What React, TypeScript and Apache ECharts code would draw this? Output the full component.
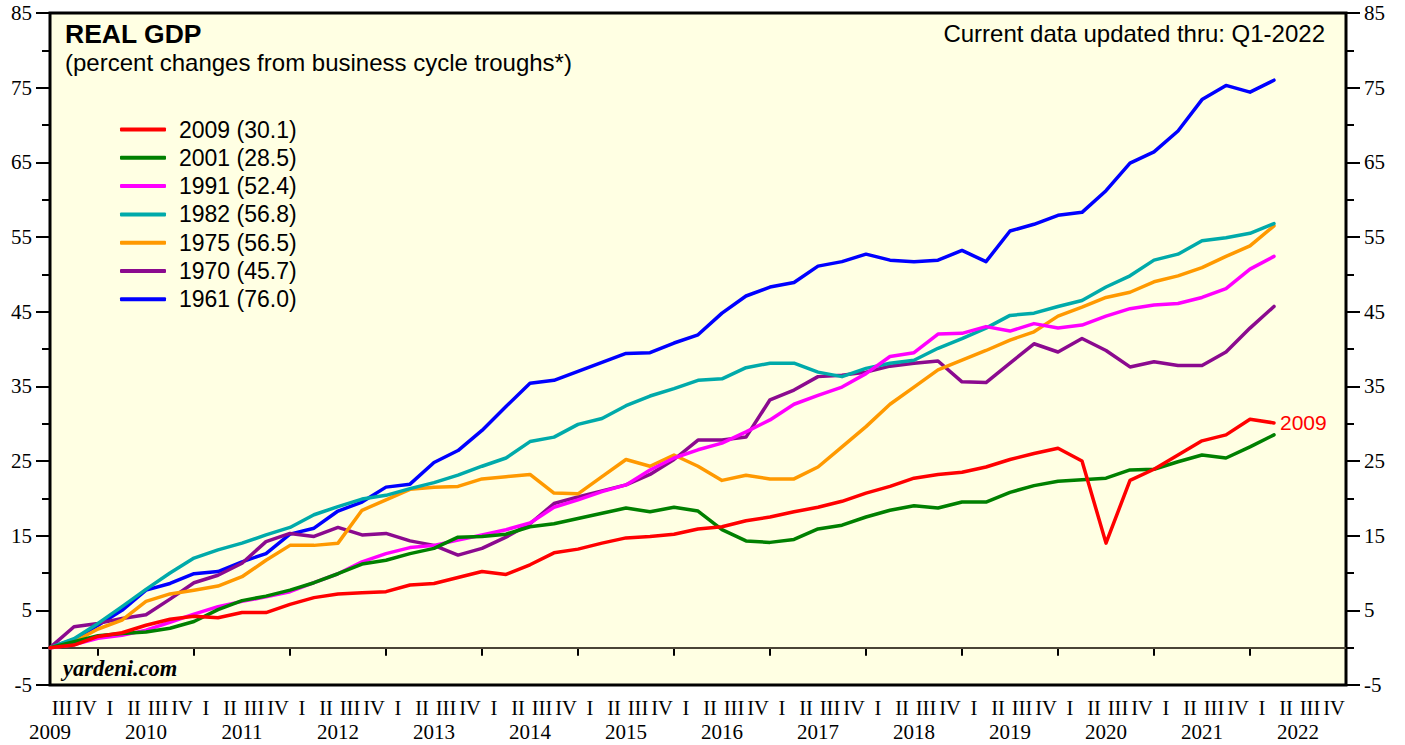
import React, { useEffect, useRef } from 'react';
import * as echarts from 'echarts';

// Year labels and quarter labels (plot runs from Q3-2009 through Q4-2022)
const years = [2009, 2010, 2011, 2012, 2013, 2014, 2015, 2016, 2017, 2018, 2019, 2020, 2021, 2022];
const quarterNames = ['I', 'II', 'III', 'IV'];
const quarterCategories = ['III', 'IV'].concat(...years.slice(1).map(() => quarterNames));

// Percent change in real GDP from business-cycle trough, quarter by quarter (index 0 = trough)
const gdp2009 = [0, 0.35, 1.5, 2.0, 3.0, 3.8, 4.2, 4.0, 4.7, 4.7, 5.8, 6.7, 7.2, 7.35, 7.5, 8.4, 8.6, 9.4, 10.2, 9.8, 11.1, 12.7, 13.2, 14.0, 14.7, 14.9, 15.2, 15.9, 16.2, 17.0, 17.5, 18.2, 18.8, 19.6, 20.7, 21.6, 22.7, 23.2, 23.5, 24.2, 25.2, 26.0, 26.7, 25.0, 14.0, 22.4, 23.9, 25.8, 27.7, 28.5, 30.6, 30.1];
const gdp2001 = [0, 0.8, 1.6, 1.9, 2.1, 2.6, 3.5, 5.1, 6.3, 6.9, 7.7, 8.7, 9.9, 11.2, 11.7, 12.6, 13.3, 14.8, 14.9, 15.2, 16.2, 16.6, 17.3, 18.0, 18.7, 18.2, 18.8, 18.3, 15.8, 14.3, 14.1, 14.5, 15.9, 16.4, 17.5, 18.4, 19.0, 18.7, 19.5, 19.5, 20.8, 21.7, 22.3, 22.5, 22.7, 23.8, 23.9, 24.9, 25.8, 25.4, 26.9, 28.5];
const gdp1991 = [0, 0.4, 1.25, 1.65, 2.35, 3.4, 4.5, 5.5, 6.2, 6.8, 7.5, 8.7, 9.9, 11.5, 12.6, 13.4, 13.7, 14.4, 15.1, 15.8, 16.7, 18.8, 19.8, 20.9, 21.8, 23.8, 25.4, 26.5, 27.4, 28.9, 30.5, 32.6, 33.8, 34.9, 36.7, 39.0, 39.5, 42.0, 42.1, 43.0, 42.4, 43.4, 42.8, 43.2, 44.4, 45.4, 45.9, 46.1, 46.9, 48.1, 50.7, 52.4];
const gdp1982 = [0, 1.2, 3.25, 5.5, 7.8, 10.0, 12.0, 13.1, 14.0, 15.1, 16.1, 17.8, 18.9, 19.9, 20.4, 21.3, 22.1, 23.1, 24.3, 25.4, 27.6, 28.2, 29.9, 30.7, 32.4, 33.7, 34.7, 35.8, 36.0, 37.5, 38.1, 38.1, 36.9, 36.3, 37.4, 38.1, 38.5, 40.1, 41.4, 42.8, 44.5, 44.8, 45.7, 46.5, 48.3, 49.8, 51.9, 52.7, 54.5, 54.9, 55.5, 56.8];
const gdp1975 = [0, 0.8, 2.5, 3.7, 6.2, 7.2, 7.7, 8.25, 9.5, 11.7, 13.7, 13.7, 14.0, 18.4, 19.8, 21.2, 21.5, 21.6, 22.6, 22.9, 23.2, 20.7, 20.6, 22.9, 25.2, 24.3, 25.8, 24.3, 22.4, 23.1, 22.6, 22.6, 24.2, 26.9, 29.6, 32.6, 34.9, 37.2, 38.5, 39.8, 41.2, 42.3, 44.4, 45.6, 46.9, 47.6, 49.0, 49.8, 50.9, 52.4, 53.8, 56.5];
const gdp1970 = [0, 2.8, 3.25, 3.9, 4.4, 6.5, 8.7, 9.7, 11.3, 14.2, 15.3, 14.9, 16.1, 15.1, 15.3, 14.3, 13.7, 12.4, 13.3, 14.8, 16.6, 19.3, 20.2, 21.0, 21.8, 23.2, 25.2, 27.8, 27.8, 28.2, 33.2, 34.5, 36.3, 36.5, 36.9, 37.7, 38.1, 38.4, 35.6, 35.5, 38.1, 40.7, 39.6, 41.4, 39.8, 37.6, 38.3, 37.8, 37.8, 39.6, 42.8, 45.7];
const gdp1961 = [0, 1.1, 3.0, 5.0, 7.7, 8.6, 9.9, 10.2, 11.5, 12.6, 15.2, 16.0, 18.3, 19.5, 21.5, 21.9, 24.8, 26.4, 29.1, 32.3, 35.4, 35.8, 37.0, 38.2, 39.4, 39.5, 40.8, 41.9, 44.8, 47.1, 48.3, 48.9, 51.1, 51.7, 52.7, 51.9, 51.7, 51.9, 53.2, 51.7, 55.8, 56.7, 57.9, 58.3, 61.2, 64.9, 66.4, 69.2, 73.4, 75.3, 74.4, 76.0];

const cycleYears = ['2009', '2001', '1991', '1982', '1975', '1970', '1961'];
const cycleData = [gdp2009, gdp2001, gdp1991, gdp1982, gdp1975, gdp1970, gdp1961];
const cycleColors = ['#FF0000', '#008000', '#FF00FF', '#00AAAA', '#FF9900', '#8B0A8F', '#0000FF'];

const titleText = 'REAL GDP';
const subtitleText = '(percent changes from business cycle troughs*)';
const updatedText = 'Current data updated thru: Q1-2022';
const sourceText = 'yardeni.com';

const SANS = '"Liberation Sans", Arial, sans-serif';
const SERIF = '"Liberation Serif", "Times New Roman", serif';

export default function App() {
  const ref = useRef<HTMLDivElement>(null);

  useEffect(() => {
    if (!ref.current) return;
    const chart = echarts.init(ref.current, undefined, { renderer: 'svg' });

    const legendNames = cycleYears.map(
      (y, k) => `${y} (${cycleData[k][cycleData[k].length - 1].toFixed(1)})`
    );

    const series: any[] = cycleYears
      .map((y, k) => ({
        name: legendNames[k],
        type: 'line',
        xAxisIndex: 1,
        yAxisIndex: 0,
        data: cycleData[k].map((v, i) => [i, v]),
        showSymbol: false,
        symbol: 'none',
        color: cycleColors[k],
        lineStyle: { width: 3.5, color: cycleColors[k], cap: 'round', join: 'round' },
        z: 10 + (cycleYears.length - k),
        endLabel:
          k === 0
            ? {
                show: true,
                formatter: () => y,
                color: cycleColors[k],
                fontFamily: SANS,
                fontSize: 21,
                distance: 6,
              }
            : { show: false },
        markLine:
          k === cycleYears.length - 1
            ? {
                silent: true,
                symbol: 'none',
                label: { show: false },
                lineStyle: { color: '#4a4436', width: 2, type: 'solid' },
                data: [{ yAxis: 0 }],
                z: 1,
              }
            : undefined,
      }))
      .reverse();

    const yAxisBase = {
      type: 'value',
      min: -5,
      max: 85,
      interval: 10,
      axisLine: { show: false },
      axisTick: { show: true, length: 14, lineStyle: { color: '#000', width: 2 } },
      minorTick: { show: true, splitNumber: 2, length: 8, lineStyle: { color: '#000', width: 2 } },
      splitLine: { show: false },
      minorSplitLine: { show: false },
      axisLabel: { color: '#000', fontFamily: SERIF, fontSize: 21, margin: 18 },
    };

    chart.setOption({
      animation: false,
      backgroundColor: '#FFFFFF',
      grid: {
        left: 50,
        right: 59,
        top: 13,
        bottom: 60,
        show: true,
        backgroundColor: '#FFFFE3',
        borderColor: '#000',
        borderWidth: 3,
        containLabel: false,
      },
      legend: {
        show: true,
        orient: 'vertical',
        left: 120,
        top: 118,
        padding: 0,
        itemWidth: 46,
        itemHeight: 4,
        itemGap: 5.3,
        icon: 'roundRect',
        data: legendNames,
        textStyle: { color: '#000', fontFamily: SANS, fontSize: 23, lineHeight: 22, padding: [0, 0, 0, 8] },
        selectedMode: false,
      },
      xAxis: [
        {
          type: 'category',
          position: 'bottom',
          data: quarterCategories,
          boundaryGap: true,
          axisLine: { show: false },
          axisTick: {
            show: true,
            length: 8,
            lineStyle: { color: '#000', width: 2 },
            interval: (i: number, v: string) => v === 'I',
          },
          axisLabel: {
            interval: 0,
            hideOverlap: false,
            color: '#000',
            fontFamily: SERIF,
            fontSize: 20.5,
            margin: 12,
          },
          splitLine: { show: false },
        },
        {
          type: 'value',
          position: 'bottom',
          min: 0,
          max: quarterCategories.length,
          interval: 4,
          axisLine: { show: false },
          axisTick: { show: false },
          splitLine: { show: false },
          axisLabel: {
            color: '#000',
            fontFamily: SERIF,
            fontSize: 21,
            margin: 36,
            showMinLabel: true,
            showMaxLabel: true,
            formatter: (v: number) => {
              const k = v / 4;
              return Number.isInteger(k) && k < years.length ? String(years[k]) : '';
            },
          },
        },
      ],
      yAxis: [
        { ...yAxisBase, position: 'left' },
        { ...yAxisBase, position: 'right' },
      ],
      graphic: [
        {
          type: 'text',
          x: 65,
          y: 34,
          style: { text: titleText, font: `bold 26.5px ${SANS}`, fill: '#000', textVerticalAlign: 'middle' },
          z: 100,
        },
        {
          type: 'text',
          x: 65,
          y: 62,
          style: { text: subtitleText, font: `24px ${SANS}`, fill: '#000', textVerticalAlign: 'middle' },
          z: 100,
        },
        {
          type: 'text',
          x: 1325,
          y: 33,
          style: {
            text: updatedText,
            font: `24px ${SANS}`,
            fill: '#000',
            textAlign: 'right',
            textVerticalAlign: 'middle',
          },
          z: 100,
        },
        {
          type: 'text',
          x: 63,
          y: 668,
          style: {
            text: sourceText,
            font: `italic bold 22.5px ${SERIF}`,
            fill: '#000',
            textVerticalAlign: 'middle',
          },
          z: 100,
        },
      ],
      series,
    });

    return () => chart.dispose();
  }, []);

  return (
    <div
      ref={ref}
      style={{ position: 'absolute', left: 0, top: 0, width: 1405, height: 745 }}
    />
  );
}
